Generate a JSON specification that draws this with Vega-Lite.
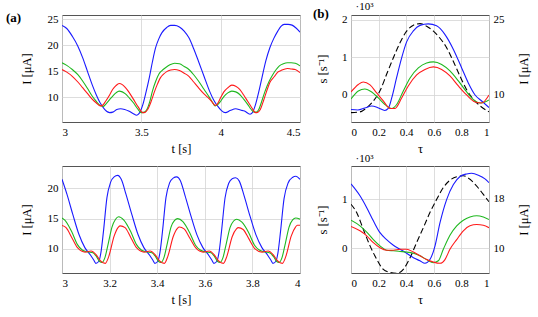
{
"$schema": "https://vega.github.io/schema/vega-lite/v6.json",
"padding": {"left": 5, "top": -1, "right": 2, "bottom": 4},
"datasets": {
"ta": [
{"t":3.000,"I":23.8,"series":"a"},{"t":3.030,"I":23.2,"series":"a"},{"t":3.065,"I":21.7,"series":"a"},{"t":3.100,"I":19.8,"series":"a"},{"t":3.130,"I":17.6,"series":"a"},{"t":3.160,"I":15.0,"series":"a"},{"t":3.190,"I":12.4,"series":"a"},{"t":3.215,"I":10.5,"series":"a"},{"t":3.240,"I":8.9,"series":"a"},{"t":3.270,"I":7.6,"series":"a"},{"t":3.300,"I":7.0,"series":"a"},{"t":3.320,"I":7.1,"series":"a"},{"t":3.345,"I":7.6,"series":"a"},{"t":3.370,"I":7.75,"series":"a"},{"t":3.395,"I":7.6,"series":"a"},{"t":3.420,"I":7.3,"series":"a"},{"t":3.450,"I":6.8,"series":"a"},{"t":3.470,"I":6.5,"series":"a"},{"t":3.485,"I":6.8,"series":"a"},{"t":3.510,"I":8.6,"series":"a"},{"t":3.530,"I":11.0,"series":"a"},{"t":3.550,"I":13.7,"series":"a"},{"t":3.570,"I":16.8,"series":"a"},{"t":3.590,"I":19.5,"series":"a"},{"t":3.610,"I":21.2,"series":"a"},{"t":3.630,"I":22.4,"series":"a"},{"t":3.660,"I":23.4,"series":"a"},{"t":3.685,"I":23.8,"series":"a"},{"t":3.710,"I":23.8,"series":"a"},{"t":3.740,"I":23.5,"series":"a"},{"t":3.770,"I":22.7,"series":"a"},{"t":3.800,"I":21.4,"series":"a"},{"t":3.830,"I":19.3,"series":"a"},{"t":3.860,"I":16.9,"series":"a"},{"t":3.895,"I":14.0,"series":"a"},{"t":3.930,"I":11.15,"series":"a"},{"t":3.955,"I":9.5,"series":"a"},{"t":3.980,"I":8.3,"series":"a"},{"t":4.005,"I":7.4,"series":"a"},{"t":4.030,"I":7.0,"series":"a"},{"t":4.060,"I":7.4,"series":"a"},{"t":4.095,"I":7.75,"series":"a"},{"t":4.125,"I":7.5,"series":"a"},{"t":4.150,"I":7.3,"series":"a"},{"t":4.185,"I":6.7,"series":"a"},{"t":4.200,"I":7.0,"series":"a"},{"t":4.220,"I":8.6,"series":"a"},{"t":4.240,"I":11.0,"series":"a"},{"t":4.260,"I":13.7,"series":"a"},{"t":4.285,"I":17.0,"series":"a"},{"t":4.310,"I":19.5,"series":"a"},{"t":4.335,"I":21.3,"series":"a"},{"t":4.360,"I":22.7,"series":"a"},{"t":4.380,"I":23.6,"series":"a"},{"t":4.400,"I":24.0,"series":"a"},{"t":4.425,"I":24.0,"series":"a"},{"t":4.450,"I":23.85,"series":"a"},{"t":4.475,"I":23.3,"series":"a"},{"t":4.500,"I":22.5,"series":"a"},
{"t":3.000,"I":16.6,"series":"b"},{"t":3.030,"I":16.1,"series":"b"},{"t":3.065,"I":15.3,"series":"b"},{"t":3.100,"I":14.3,"series":"b"},{"t":3.130,"I":13.1,"series":"b"},{"t":3.160,"I":11.7,"series":"b"},{"t":3.190,"I":10.2,"series":"b"},{"t":3.215,"I":9.2,"series":"b"},{"t":3.240,"I":8.4,"series":"b"},{"t":3.260,"I":8.2,"series":"b"},{"t":3.275,"I":8.6,"series":"b"},{"t":3.300,"I":9.5,"series":"b"},{"t":3.320,"I":10.2,"series":"b"},{"t":3.340,"I":10.8,"series":"b"},{"t":3.360,"I":11.15,"series":"b"},{"t":3.380,"I":11.0,"series":"b"},{"t":3.400,"I":10.6,"series":"b"},{"t":3.425,"I":9.8,"series":"b"},{"t":3.450,"I":8.9,"series":"b"},{"t":3.475,"I":7.8,"series":"b"},{"t":3.500,"I":7.0,"series":"b"},{"t":3.520,"I":7.1,"series":"b"},{"t":3.535,"I":7.6,"series":"b"},{"t":3.555,"I":9.3,"series":"b"},{"t":3.570,"I":11.15,"series":"b"},{"t":3.590,"I":13.0,"series":"b"},{"t":3.610,"I":14.4,"series":"b"},{"t":3.630,"I":15.1,"series":"b"},{"t":3.650,"I":15.6,"series":"b"},{"t":3.680,"I":16.2,"series":"b"},{"t":3.710,"I":16.5,"series":"b"},{"t":3.740,"I":16.4,"series":"b"},{"t":3.770,"I":15.9,"series":"b"},{"t":3.800,"I":15.3,"series":"b"},{"t":3.830,"I":14.3,"series":"b"},{"t":3.860,"I":13.1,"series":"b"},{"t":3.895,"I":11.5,"series":"b"},{"t":3.930,"I":9.9,"series":"b"},{"t":3.950,"I":8.9,"series":"b"},{"t":3.965,"I":8.3,"series":"b"},{"t":3.980,"I":8.5,"series":"b"},{"t":4.000,"I":9.2,"series":"b"},{"t":4.020,"I":10.1,"series":"b"},{"t":4.045,"I":10.8,"series":"b"},{"t":4.070,"I":11.15,"series":"b"},{"t":4.095,"I":11.0,"series":"b"},{"t":4.120,"I":10.5,"series":"b"},{"t":4.145,"I":9.6,"series":"b"},{"t":4.170,"I":8.6,"series":"b"},{"t":4.190,"I":7.7,"series":"b"},{"t":4.210,"I":7.1,"series":"b"},{"t":4.225,"I":7.1,"series":"b"},{"t":4.240,"I":7.6,"series":"b"},{"t":4.260,"I":9.3,"series":"b"},{"t":4.280,"I":11.15,"series":"b"},{"t":4.305,"I":13.0,"series":"b"},{"t":4.330,"I":14.4,"series":"b"},{"t":4.350,"I":15.3,"series":"b"},{"t":4.370,"I":16.0,"series":"b"},{"t":4.395,"I":16.4,"series":"b"},{"t":4.420,"I":16.6,"series":"b"},{"t":4.445,"I":16.6,"series":"b"},{"t":4.470,"I":16.5,"series":"b"},{"t":4.500,"I":16.0,"series":"b"},
{"t":3.000,"I":15.3,"series":"c"},{"t":3.030,"I":14.8,"series":"c"},{"t":3.065,"I":14.0,"series":"c"},{"t":3.100,"I":12.9,"series":"c"},{"t":3.130,"I":11.8,"series":"c"},{"t":3.160,"I":10.7,"series":"c"},{"t":3.190,"I":9.6,"series":"c"},{"t":3.215,"I":8.9,"series":"c"},{"t":3.240,"I":8.3,"series":"c"},{"t":3.255,"I":8.4,"series":"c"},{"t":3.275,"I":9.2,"series":"c"},{"t":3.300,"I":10.4,"series":"c"},{"t":3.320,"I":11.5,"series":"c"},{"t":3.340,"I":12.2,"series":"c"},{"t":3.360,"I":12.6,"series":"c"},{"t":3.380,"I":12.4,"series":"c"},{"t":3.400,"I":11.8,"series":"c"},{"t":3.425,"I":10.8,"series":"c"},{"t":3.450,"I":9.6,"series":"c"},{"t":3.480,"I":8.1,"series":"c"},{"t":3.510,"I":7.0,"series":"c"},{"t":3.525,"I":7.1,"series":"c"},{"t":3.540,"I":7.6,"series":"c"},{"t":3.560,"I":9.0,"series":"c"},{"t":3.580,"I":10.8,"series":"c"},{"t":3.600,"I":12.4,"series":"c"},{"t":3.620,"I":13.7,"series":"c"},{"t":3.640,"I":14.4,"series":"c"},{"t":3.660,"I":14.9,"series":"c"},{"t":3.685,"I":15.2,"series":"c"},{"t":3.710,"I":15.3,"series":"c"},{"t":3.740,"I":15.1,"series":"c"},{"t":3.770,"I":14.6,"series":"c"},{"t":3.800,"I":14.0,"series":"c"},{"t":3.830,"I":12.9,"series":"c"},{"t":3.860,"I":11.8,"series":"c"},{"t":3.895,"I":10.6,"series":"c"},{"t":3.930,"I":9.6,"series":"c"},{"t":3.950,"I":8.9,"series":"c"},{"t":3.965,"I":8.4,"series":"c"},{"t":3.980,"I":8.7,"series":"c"},{"t":4.000,"I":9.9,"series":"c"},{"t":4.020,"I":11.0,"series":"c"},{"t":4.045,"I":11.8,"series":"c"},{"t":4.070,"I":12.3,"series":"c"},{"t":4.095,"I":12.1,"series":"c"},{"t":4.120,"I":11.5,"series":"c"},{"t":4.145,"I":10.4,"series":"c"},{"t":4.170,"I":9.2,"series":"c"},{"t":4.195,"I":8.0,"series":"c"},{"t":4.220,"I":7.0,"series":"c"},{"t":4.235,"I":7.1,"series":"c"},{"t":4.250,"I":7.6,"series":"c"},{"t":4.270,"I":9.3,"series":"c"},{"t":4.290,"I":11.15,"series":"c"},{"t":4.310,"I":12.8,"series":"c"},{"t":4.340,"I":14.0,"series":"c"},{"t":4.360,"I":14.8,"series":"c"},{"t":4.380,"I":15.1,"series":"c"},{"t":4.420,"I":15.5,"series":"c"},{"t":4.445,"I":15.4,"series":"c"},{"t":4.470,"I":15.3,"series":"c"},{"t":4.500,"I":14.7,"series":"c"}
],
"ba": [
{"t":3.000,"I":21.5,"series":"a"},{"t":3.021,"I":19.0,"series":"a"},{"t":3.046,"I":15.6,"series":"a"},{"t":3.071,"I":12.4,"series":"a"},{"t":3.096,"I":10.2,"series":"a"},{"t":3.121,"I":8.9,"series":"a"},{"t":3.134,"I":8.1,"series":"a"},{"t":3.142,"I":7.6,"series":"a"},{"t":3.154,"I":7.9,"series":"a"},{"t":3.164,"I":9.5,"series":"a"},{"t":3.174,"I":12.8,"series":"a"},{"t":3.189,"I":18.5,"series":"a"},{"t":3.204,"I":21.0,"series":"a"},{"t":3.219,"I":21.9,"series":"a"},
{"t":3.234,"I":22.15,"series":"a"},{"t":3.249,"I":21.5,"series":"a"},{"t":3.269,"I":19.0,"series":"a"},{"t":3.294,"I":15.6,"series":"a"},{"t":3.319,"I":12.4,"series":"a"},{"t":3.344,"I":10.2,"series":"a"},{"t":3.369,"I":8.9,"series":"a"},{"t":3.382,"I":8.1,"series":"a"},{"t":3.390,"I":7.6,"series":"a"},{"t":3.402,"I":7.9,"series":"a"},{"t":3.412,"I":9.5,"series":"a"},{"t":3.422,"I":12.8,"series":"a"},{"t":3.437,"I":18.5,"series":"a"},{"t":3.452,"I":20.9,"series":"a"},{"t":3.467,"I":21.7,"series":"a"},
{"t":3.482,"I":21.9,"series":"a"},{"t":3.497,"I":21.3,"series":"a"},{"t":3.517,"I":18.8,"series":"a"},{"t":3.542,"I":15.4,"series":"a"},{"t":3.567,"I":12.3,"series":"a"},{"t":3.592,"I":10.2,"series":"a"},{"t":3.617,"I":8.9,"series":"a"},{"t":3.630,"I":8.1,"series":"a"},{"t":3.638,"I":7.6,"series":"a"},{"t":3.650,"I":7.9,"series":"a"},{"t":3.660,"I":9.5,"series":"a"},{"t":3.670,"I":12.8,"series":"a"},{"t":3.685,"I":18.4,"series":"a"},{"t":3.700,"I":20.8,"series":"a"},{"t":3.715,"I":21.6,"series":"a"},
{"t":3.730,"I":21.75,"series":"a"},{"t":3.745,"I":21.2,"series":"a"},{"t":3.765,"I":18.8,"series":"a"},{"t":3.790,"I":15.4,"series":"a"},{"t":3.815,"I":12.3,"series":"a"},{"t":3.840,"I":10.2,"series":"a"},{"t":3.865,"I":8.9,"series":"a"},{"t":3.878,"I":8.1,"series":"a"},{"t":3.886,"I":7.6,"series":"a"},{"t":3.898,"I":7.9,"series":"a"},{"t":3.908,"I":9.5,"series":"a"},{"t":3.918,"I":12.8,"series":"a"},{"t":3.933,"I":18.3,"series":"a"},{"t":3.950,"I":20.9,"series":"a"},{"t":3.968,"I":21.8,"series":"a"},{"t":3.983,"I":22.0,"series":"a"},{"t":4.000,"I":21.5,"series":"a"},
{"t":3.000,"I":15.1,"series":"b"},{"t":3.012,"I":14.75,"series":"b"},{"t":3.040,"I":12.9,"series":"b"},{"t":3.065,"I":10.7,"series":"b"},{"t":3.085,"I":9.8,"series":"b"},{"t":3.105,"I":9.5,"series":"b"},{"t":3.130,"I":9.35,"series":"b"},{"t":3.145,"I":8.7,"series":"b"},{"t":3.158,"I":7.9,"series":"b"},{"t":3.168,"I":7.75,"series":"b"},{"t":3.180,"I":8.5,"series":"b"},{"t":3.195,"I":11.0,"series":"b"},{"t":3.210,"I":13.6,"series":"b"},{"t":3.225,"I":14.9,"series":"b"},
{"t":3.238,"I":15.3,"series":"b"},{"t":3.260,"I":14.75,"series":"b"},{"t":3.288,"I":12.9,"series":"b"},{"t":3.313,"I":10.7,"series":"b"},{"t":3.333,"I":9.8,"series":"b"},{"t":3.353,"I":9.5,"series":"b"},{"t":3.378,"I":9.35,"series":"b"},{"t":3.393,"I":8.7,"series":"b"},{"t":3.406,"I":7.9,"series":"b"},{"t":3.416,"I":7.75,"series":"b"},{"t":3.428,"I":8.5,"series":"b"},{"t":3.443,"I":11.0,"series":"b"},{"t":3.458,"I":13.6,"series":"b"},{"t":3.473,"I":14.7,"series":"b"},
{"t":3.486,"I":15.0,"series":"b"},{"t":3.508,"I":14.5,"series":"b"},{"t":3.536,"I":12.7,"series":"b"},{"t":3.561,"I":10.6,"series":"b"},{"t":3.581,"I":9.8,"series":"b"},{"t":3.601,"I":9.5,"series":"b"},{"t":3.626,"I":9.35,"series":"b"},{"t":3.641,"I":8.7,"series":"b"},{"t":3.654,"I":7.9,"series":"b"},{"t":3.664,"I":7.75,"series":"b"},{"t":3.676,"I":8.5,"series":"b"},{"t":3.691,"I":11.0,"series":"b"},{"t":3.706,"I":13.5,"series":"b"},{"t":3.721,"I":14.6,"series":"b"},
{"t":3.734,"I":14.9,"series":"b"},{"t":3.756,"I":14.4,"series":"b"},{"t":3.784,"I":12.7,"series":"b"},{"t":3.809,"I":10.6,"series":"b"},{"t":3.829,"I":9.8,"series":"b"},{"t":3.849,"I":9.5,"series":"b"},{"t":3.874,"I":9.3,"series":"b"},{"t":3.889,"I":8.7,"series":"b"},{"t":3.902,"I":7.9,"series":"b"},{"t":3.912,"I":7.75,"series":"b"},{"t":3.924,"I":8.5,"series":"b"},{"t":3.939,"I":11.0,"series":"b"},{"t":3.954,"I":13.6,"series":"b"},{"t":3.969,"I":14.8,"series":"b"},{"t":3.982,"I":15.1,"series":"b"},{"t":4.000,"I":14.9,"series":"b"},
{"t":3.000,"I":13.85,"series":"c"},{"t":3.017,"I":13.5,"series":"c"},{"t":3.042,"I":11.8,"series":"c"},{"t":3.067,"I":10.1,"series":"c"},{"t":3.097,"I":9.45,"series":"c"},{"t":3.122,"I":9.65,"series":"c"},{"t":3.142,"I":9.1,"series":"c"},{"t":3.162,"I":8.0,"series":"c"},{"t":3.182,"I":7.6,"series":"c"},{"t":3.197,"I":8.8,"series":"c"},{"t":3.219,"I":12.1,"series":"c"},{"t":3.237,"I":13.6,"series":"c"},
{"t":3.245,"I":13.8,"series":"c"},{"t":3.265,"I":13.5,"series":"c"},{"t":3.290,"I":11.8,"series":"c"},{"t":3.315,"I":10.1,"series":"c"},{"t":3.345,"I":9.45,"series":"c"},{"t":3.370,"I":9.65,"series":"c"},{"t":3.390,"I":9.1,"series":"c"},{"t":3.410,"I":8.0,"series":"c"},{"t":3.430,"I":7.6,"series":"c"},{"t":3.445,"I":8.8,"series":"c"},{"t":3.467,"I":12.0,"series":"c"},{"t":3.485,"I":13.4,"series":"c"},
{"t":3.493,"I":13.6,"series":"c"},{"t":3.513,"I":13.3,"series":"c"},{"t":3.538,"I":11.7,"series":"c"},{"t":3.563,"I":10.1,"series":"c"},{"t":3.593,"I":9.45,"series":"c"},{"t":3.618,"I":9.65,"series":"c"},{"t":3.638,"I":9.1,"series":"c"},{"t":3.658,"I":8.0,"series":"c"},{"t":3.678,"I":7.6,"series":"c"},{"t":3.693,"I":8.8,"series":"c"},{"t":3.715,"I":12.0,"series":"c"},{"t":3.733,"I":13.3,"series":"c"},
{"t":3.741,"I":13.5,"series":"c"},{"t":3.761,"I":13.2,"series":"c"},{"t":3.786,"I":11.6,"series":"c"},{"t":3.811,"I":10.0,"series":"c"},{"t":3.841,"I":9.45,"series":"c"},{"t":3.866,"I":9.65,"series":"c"},{"t":3.886,"I":9.1,"series":"c"},{"t":3.906,"I":8.0,"series":"c"},{"t":3.926,"I":7.6,"series":"c"},{"t":3.941,"I":8.8,"series":"c"},{"t":3.963,"I":12.1,"series":"c"},{"t":3.981,"I":13.6,"series":"c"},{"t":3.989,"I":13.9,"series":"c"},{"t":4.000,"I":13.9,"series":"c"}
],
"tb": [
{"tau":0.0,"I":7.0,"series":"a"},{"tau":0.05,"I":6.9,"series":"a"},{"tau":0.1,"I":7.3,"series":"a"},{"tau":0.15,"I":7.7,"series":"a"},{"tau":0.2,"I":7.3,"series":"a"},{"tau":0.245,"I":6.8,"series":"a"},{"tau":0.27,"I":7.2,"series":"a"},{"tau":0.295,"I":9.3,"series":"a"},{"tau":0.33,"I":13.3,"series":"a"},{"tau":0.367,"I":17.3,"series":"a"},{"tau":0.403,"I":20.5,"series":"a"},{"tau":0.452,"I":22.7,"series":"a"},{"tau":0.5,"I":23.8,"series":"a"},{"tau":0.56,"I":24.1,"series":"a"},{"tau":0.62,"I":23.7,"series":"a"},{"tau":0.68,"I":22.0,"series":"a"},{"tau":0.742,"I":19.0,"series":"a"},{"tau":0.802,"I":15.3,"series":"a"},{"tau":0.85,"I":12.3,"series":"a"},{"tau":0.899,"I":9.9,"series":"a"},{"tau":0.947,"I":8.7,"series":"a"},{"tau":1.0,"I":7.4,"series":"a"},
{"tau":0.0,"I":9.1,"series":"b"},{"tau":0.053,"I":10.7,"series":"b"},{"tau":0.1,"I":11.1,"series":"b"},{"tau":0.15,"I":10.5,"series":"b"},{"tau":0.198,"I":9.3,"series":"b"},{"tau":0.246,"I":8.0,"series":"b"},{"tau":0.295,"I":7.2,"series":"b"},{"tau":0.331,"I":8.0,"series":"b"},{"tau":0.379,"I":10.7,"series":"b"},{"tau":0.428,"I":13.3,"series":"b"},{"tau":0.488,"I":15.3,"series":"b"},{"tau":0.548,"I":16.3,"series":"b"},{"tau":0.597,"I":16.5,"series":"b"},{"tau":0.657,"I":16.0,"series":"b"},{"tau":0.717,"I":14.7,"series":"b"},{"tau":0.778,"I":12.7,"series":"b"},{"tau":0.838,"I":10.5,"series":"b"},{"tau":0.899,"I":8.7,"series":"b"},{"tau":0.935,"I":8.3,"series":"b"},{"tau":0.971,"I":8.5,"series":"b"},{"tau":1.0,"I":8.9,"series":"b"},
{"tau":0.0,"I":10.5,"series":"c"},{"tau":0.053,"I":12.0,"series":"c"},{"tau":0.089,"I":12.5,"series":"c"},{"tau":0.138,"I":11.9,"series":"c"},{"tau":0.186,"I":10.3,"series":"c"},{"tau":0.234,"I":8.7,"series":"c"},{"tau":0.283,"I":7.2,"series":"c"},{"tau":0.319,"I":7.2,"series":"c"},{"tau":0.367,"I":9.3,"series":"c"},{"tau":0.415,"I":11.7,"series":"c"},{"tau":0.476,"I":13.9,"series":"c"},{"tau":0.536,"I":15.0,"series":"c"},{"tau":0.597,"I":15.5,"series":"c"},{"tau":0.657,"I":15.0,"series":"c"},{"tau":0.717,"I":13.7,"series":"c"},{"tau":0.778,"I":11.7,"series":"c"},{"tau":0.838,"I":9.9,"series":"c"},{"tau":0.899,"I":8.5,"series":"c"},{"tau":0.947,"I":8.3,"series":"c"},{"tau":1.0,"I":9.9,"series":"c"}
],
"tbs": [
{"tau":0.0,"s":-0.48},{"tau":0.065,"s":-0.46},{"tau":0.114,"s":-0.35},{"tau":0.162,"s":-0.17},{"tau":0.21,"s":0.1},{"tau":0.258,"s":0.54},{"tau":0.307,"s":0.98},{"tau":0.355,"s":1.38},{"tau":0.403,"s":1.69},{"tau":0.452,"s":1.85},{"tau":0.5,"s":1.89},{"tau":0.548,"s":1.82},{"tau":0.597,"s":1.69},{"tau":0.645,"s":1.5},{"tau":0.693,"s":1.25},{"tau":0.742,"s":0.88},{"tau":0.79,"s":0.49},{"tau":0.838,"s":0.13},{"tau":0.886,"s":-0.12},{"tau":0.935,"s":-0.3},{"tau":1.0,"s":-0.46}
],
"bb": [
{"tau":0.0,"I":20.3,"series":"a"},{"tau":0.065,"I":18.4,"series":"a"},{"tau":0.114,"I":16.5,"series":"a"},{"tau":0.162,"I":14.4,"series":"a"},{"tau":0.21,"I":12.5,"series":"a"},{"tau":0.258,"I":11.4,"series":"a"},{"tau":0.307,"I":10.5,"series":"a"},{"tau":0.355,"I":9.85,"series":"a"},{"tau":0.403,"I":9.2,"series":"a"},{"tau":0.452,"I":8.5,"series":"a"},{"tau":0.5,"I":8.0,"series":"a"},{"tau":0.536,"I":7.6,"series":"a"},{"tau":0.572,"I":8.2,"series":"a"},{"tau":0.609,"I":10.4,"series":"a"},{"tau":0.645,"I":14.1,"series":"a"},{"tau":0.693,"I":17.8,"series":"a"},{"tau":0.742,"I":20.2,"series":"a"},{"tau":0.79,"I":21.5,"series":"a"},{"tau":0.838,"I":21.9,"series":"a"},{"tau":0.874,"I":22.0,"series":"a"},{"tau":0.923,"I":21.7,"series":"a"},{"tau":0.971,"I":21.1,"series":"a"},{"tau":1.0,"I":20.5,"series":"a"},
{"tau":0.0,"I":14.5,"series":"b"},{"tau":0.065,"I":13.6,"series":"b"},{"tau":0.114,"I":12.6,"series":"b"},{"tau":0.162,"I":11.4,"series":"b"},{"tau":0.21,"I":10.4,"series":"b"},{"tau":0.258,"I":9.7,"series":"b"},{"tau":0.307,"I":9.6,"series":"b"},{"tau":0.355,"I":9.5,"series":"b"},{"tau":0.403,"I":9.4,"series":"b"},{"tau":0.452,"I":9.2,"series":"b"},{"tau":0.5,"I":8.8,"series":"b"},{"tau":0.548,"I":8.2,"series":"b"},{"tau":0.597,"I":7.7,"series":"b"},{"tau":0.633,"I":8.0,"series":"b"},{"tau":0.669,"I":9.85,"series":"b"},{"tau":0.717,"I":12.1,"series":"b"},{"tau":0.766,"I":13.6,"series":"b"},{"tau":0.814,"I":14.5,"series":"b"},{"tau":0.862,"I":15.0,"series":"b"},{"tau":0.911,"I":15.2,"series":"b"},{"tau":0.959,"I":15.0,"series":"b"},{"tau":1.0,"I":14.6,"series":"b"},
{"tau":0.0,"I":13.5,"series":"c"},{"tau":0.065,"I":12.8,"series":"c"},{"tau":0.114,"I":12.0,"series":"c"},{"tau":0.162,"I":10.9,"series":"c"},{"tau":0.21,"I":10.1,"series":"c"},{"tau":0.258,"I":9.7,"series":"c"},{"tau":0.307,"I":9.7,"series":"c"},{"tau":0.355,"I":9.85,"series":"c"},{"tau":0.403,"I":9.85,"series":"c"},{"tau":0.452,"I":9.4,"series":"c"},{"tau":0.5,"I":8.8,"series":"c"},{"tau":0.548,"I":8.2,"series":"c"},{"tau":0.597,"I":7.8,"series":"c"},{"tau":0.645,"I":7.6,"series":"c"},{"tau":0.681,"I":8.2,"series":"c"},{"tau":0.717,"I":9.85,"series":"c"},{"tau":0.766,"I":11.4,"series":"c"},{"tau":0.814,"I":12.8,"series":"c"},{"tau":0.862,"I":13.6,"series":"c"},{"tau":0.911,"I":13.8,"series":"c"},{"tau":0.959,"I":13.7,"series":"c"},{"tau":1.0,"I":13.3,"series":"c"}
],
"bbs": [
{"tau":0.0,"s":0.9},{"tau":0.041,"s":0.73},{"tau":0.089,"s":0.39},{"tau":0.138,"s":0.05},{"tau":0.186,"s":-0.22},{"tau":0.234,"s":-0.43},{"tau":0.283,"s":-0.49},{"tau":0.331,"s":-0.51},{"tau":0.379,"s":-0.43},{"tau":0.428,"s":-0.19},{"tau":0.476,"s":0.12},{"tau":0.524,"s":0.42},{"tau":0.572,"s":0.73},{"tau":0.621,"s":1.0},{"tau":0.669,"s":1.24},{"tau":0.717,"s":1.39},{"tau":0.766,"s":1.46},{"tau":0.814,"s":1.48},{"tau":0.862,"s":1.41},{"tau":0.911,"s":1.27},{"tau":0.959,"s":1.1},{"tau":1.0,"s":0.95}
]
},
"concat": [
{
"width": 238, "height": 107,
"title": {"text": "(a)", "dx": -56, "dy": 16},
"data": {"name": "ta"},
"mark": {"type": "line", "interpolate": "monotone", "clip": true, "strokeWidth": 1.1},
"encoding": {
"x": {"field": "t", "type": "quantitative", "scale": {"domain": [3, 4.5], "nice": false, "zero": false}, "axis": {"values": [3, 3.5, 4, 4.5], "format": "~g", "title": "t [s]"}},
"y": {"field": "I", "type": "quantitative", "scale": {"domain": [5.2, 25.8], "nice": false, "zero": false}, "axis": {"values": [10, 15, 20, 25], "title": "I [μA]", "titlePadding": 14}},
"color": {"field": "series", "type": "nominal", "scale": {"domain": ["a", "b", "c"], "range": ["#1a1aff", "#1fb81f", "#ff1a1a"]}, "legend": null}
}
},
{
"width": 138, "height": 107,
"title": {"text": "(b)", "dx": -38, "dy": 25},
"layer": [
{
"data": {"name": "tbs"},
"mark": {"type": "line", "interpolate": "monotone", "clip": true, "color": "black", "strokeDash": [6, 3], "strokeWidth": 1.1},
"encoding": {
"x": {"field": "tau", "type": "quantitative", "scale": {"domain": [0, 1], "nice": false}, "axis": {"values": [0, 0.2, 0.4, 0.6, 0.8, 1], "format": "~g", "title": "τ"}},
"y": {"field": "s", "type": "quantitative", "scale": {"domain": [-0.73, 2.12], "nice": false, "zero": false}, "axis": {"orient": "left", "values": [0, 1, 2], "title": "s [s⁻¹]", "titlePadding": 12}}
}
},
{
"data": {"name": "tb"},
"mark": {"type": "line", "interpolate": "monotone", "clip": true, "strokeWidth": 1.1},
"encoding": {
"x": {"field": "tau", "type": "quantitative", "axis": {"orient": "top", "labels": false, "grid": false, "title": "·10³", "titleAngle": 0, "titleX": 4, "titleY": -6, "titleAlign": "left", "titleBaseline": "alphabetic", "titleFontSize": 11}},
"y": {"field": "I", "type": "quantitative", "scale": {"domain": [4.5, 25.87], "nice": false, "zero": false}, "axis": {"orient": "right", "values": [10, 25], "grid": false, "title": "I [μA]", "titleAngle": -90, "titlePadding": 26}},
"color": {"field": "series", "type": "nominal", "scale": {"domain": ["a", "b", "c"], "range": ["#1a1aff", "#1fb81f", "#ff1a1a"]}, "legend": null}
}
}
],
"resolve": {"scale": {"y": "independent"}, "axis": {"x": "independent"}}
},
{
"width": 238, "height": 107,
"data": {"name": "ba"},
"mark": {"type": "line", "interpolate": "monotone", "clip": true, "strokeWidth": 1.1},
"encoding": {
"x": {"field": "t", "type": "quantitative", "scale": {"domain": [3, 4], "nice": false, "zero": false}, "axis": {"values": [3, 3.2, 3.4, 3.6, 3.8, 4], "format": "~g", "title": "t [s]"}},
"y": {"field": "I", "type": "quantitative", "scale": {"domain": [6, 23.7], "nice": false, "zero": false}, "axis": {"values": [10, 15, 20], "title": "I [μA]", "titlePadding": 14}},
"color": {"field": "series", "type": "nominal", "scale": {"domain": ["a", "b", "c"], "range": ["#1a1aff", "#1fb81f", "#ff1a1a"]}, "legend": null}
}
},
{
"width": 138, "height": 107,
"layer": [
{
"data": {"name": "bbs"},
"mark": {"type": "line", "interpolate": "monotone", "clip": true, "color": "black", "strokeDash": [6, 3], "strokeWidth": 1.1},
"encoding": {
"x": {"field": "tau", "type": "quantitative", "scale": {"domain": [0, 1], "nice": false}, "axis": {"values": [0, 0.2, 0.4, 0.6, 0.8, 1], "format": "~g", "title": "τ"}},
"y": {"field": "s", "type": "quantitative", "scale": {"domain": [-0.503, 1.68], "nice": false, "zero": false}, "axis": {"orient": "left", "values": [0, 1], "title": "s [s⁻¹]", "titlePadding": 12}}
}
},
{
"data": {"name": "bb"},
"mark": {"type": "line", "interpolate": "monotone", "clip": true, "strokeWidth": 1.1},
"encoding": {
"x": {"field": "tau", "type": "quantitative", "axis": {"orient": "top", "labels": false, "grid": false, "title": "·10³", "titleAngle": 0, "titleX": 4, "titleY": -5, "titleAlign": "left", "titleBaseline": "alphabetic", "titleFontSize": 11}},
"y": {"field": "I", "type": "quantitative", "scale": {"domain": [6.05, 23.17], "nice": false, "zero": false}, "axis": {"orient": "right", "values": [10, 18], "grid": false, "title": "I [μA]", "titleAngle": -90, "titlePadding": 26}},
"color": {"field": "series", "type": "nominal", "scale": {"domain": ["a", "b", "c"], "range": ["#1a1aff", "#1fb81f", "#ff1a1a"]}, "legend": null}
}
}
],
"resolve": {"scale": {"y": "independent"}, "axis": {"x": "independent"}}
}
],
"columns": 2,
"align": "each",
"spacing": {"row": -4, "column": 11},
"config": {
"font": "Liberation Serif",
"view": {"stroke": "#555555", "strokeWidth": 1},
"axis": {"labelFont": "Liberation Serif", "titleFont": "Liberation Serif", "labelFontSize": 11, "titleFontSize": 12.5, "titleFontWeight": "normal", "labelColor": "#000000", "titleColor": "#000000", "gridColor": "#d4d4d4", "gridWidth": 0.8, "domain": false, "ticks": false, "labelPadding": 4, "titlePadding": 5},
"title": {"font": "Liberation Serif", "fontWeight": "bold", "fontSize": 13, "anchor": "start", "frame": "group", "offset": 0, "color": "#000000"}
}
}
